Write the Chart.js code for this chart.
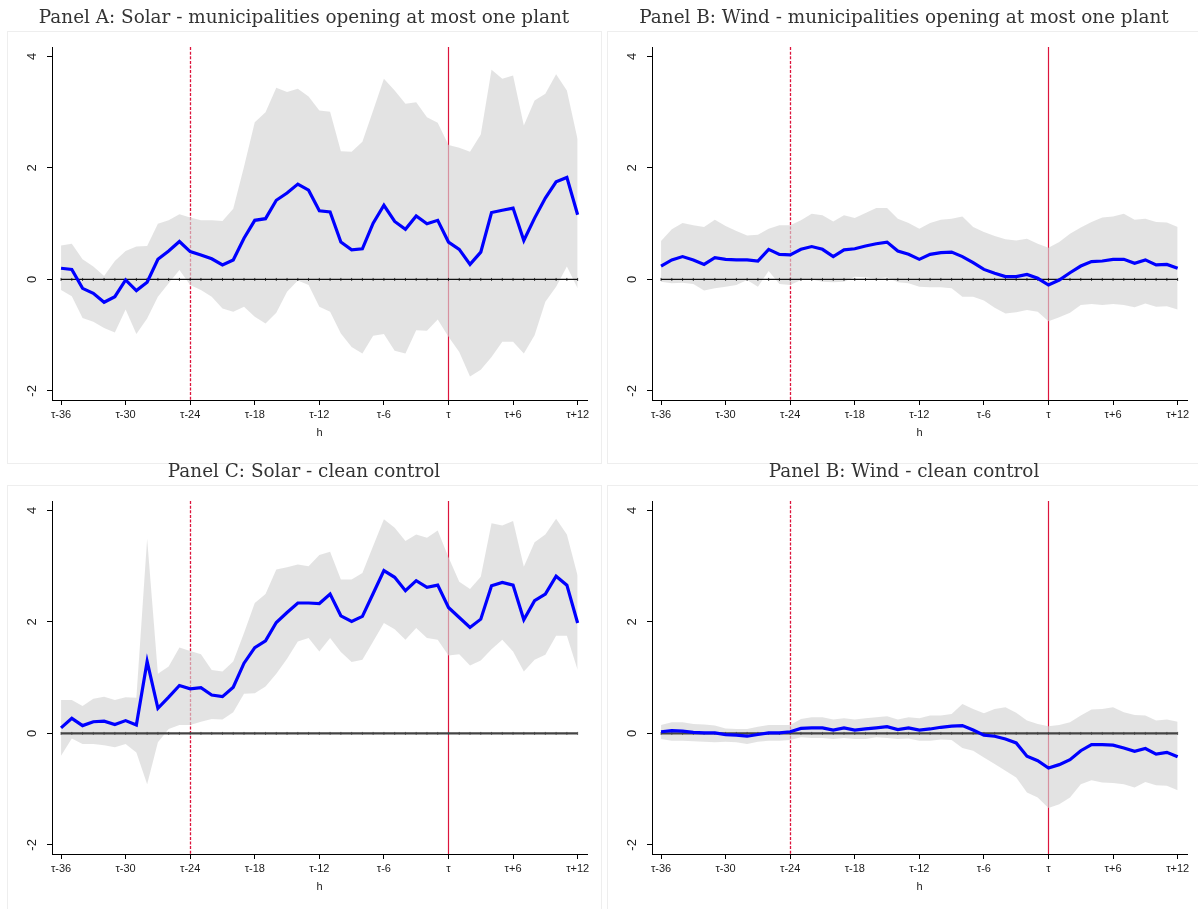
<!DOCTYPE html>
<html>
<head>
<meta charset="utf-8">
<script src="https://cdn.jsdelivr.net/npm/chart.js@4.4.1/dist/chart.umd.min.js"></script>
<style>
  html, body { margin: 0; padding: 0; background: #fff; overflow: hidden; }
  #wrap { position: relative; width: 1198px; height: 909px; overflow: hidden; }
  .panel { position: absolute; width: 608px; height: 464px; }
</style>
</head>
<body>
<div id="wrap">
  <div class="panel" style="left:0px;top:0px"><canvas id="panelA" width="608" height="464"></canvas></div>
  <div class="panel" style="left:600px;top:0px"><canvas id="panelB" width="608" height="464"></canvas></div>
  <div class="panel" style="left:0px;top:454px"><canvas id="panelC" width="608" height="464"></canvas></div>
  <div class="panel" style="left:600px;top:454px"><canvas id="panelD" width="608" height="464"></canvas></div>
</div>
<script>
const hValues = [-36, -35, -34, -33, -32, -31, -30, -29, -28, -27, -26, -25, -24,
	-23, -22, -21, -20, -19, -18, -17, -16, -15, -14, -13, -12,
	-11, -10, -9, -8, -7, -6, -5, -4, -3, -2, -1, 0,
	1, 2, 3, 4, 5, 6, 7, 8, 9, 10, 11, 12];

const xTickValues = [-36, -30, -24, -18, -12, -6, 0, 6, 12];
const xTickLabels = ['τ-36', 'τ-30', 'τ-24', 'τ-18', 'τ-12', 'τ-6', 'τ', 'τ+6', 'τ+12'];
const yTickValues = [-2, 0, 2, 4];
const eventDates = [-24, 0];

// Panel A: solar, municipalities opening at most one plant
const solarOneCoef = [0.20, 0.18, -0.16, -0.25, -0.41, -0.31, -0.01, -0.20, -0.05, 0.36, 0.51, 0.68, 0.50,
	0.44, 0.37, 0.26, 0.35, 0.74, 1.06, 1.09, 1.42, 1.55, 1.71, 1.60, 1.23,
	1.21, 0.67, 0.53, 0.55, 1.01, 1.33, 1.04, 0.90, 1.14, 1.00, 1.06, 0.67,
	0.54, 0.27, 0.49, 1.20, 1.24, 1.28, 0.70, 1.10, 1.46, 1.75, 1.83, 1.16];
const solarOneUpper = [0.61, 0.64, 0.36, 0.23, 0.06, 0.33, 0.51, 0.59, 0.60, 1.00, 1.06, 1.17, 1.11,
	1.06, 1.06, 1.05, 1.27, 2.02, 2.82, 3.00, 3.44, 3.36, 3.42, 3.28, 3.03,
	3.01, 2.30, 2.29, 2.47, 3.03, 3.60, 3.39, 3.15, 3.18, 2.91, 2.81, 2.41,
	2.36, 2.29, 2.60, 3.76, 3.60, 3.66, 2.76, 3.21, 3.33, 3.68, 3.39, 2.51];
const solarOneLower = [-0.19, -0.30, -0.69, -0.76, -0.87, -0.95, -0.54, -0.98, -0.70, -0.31, -0.07, 0.17, -0.10,
	-0.19, -0.31, -0.52, -0.58, -0.49, -0.67, -0.79, -0.60, -0.22, -0.02, -0.10, -0.49,
	-0.58, -0.97, -1.21, -1.33, -1.01, -0.98, -1.28, -1.33, -0.91, -0.92, -0.72, -1.03,
	-1.30, -1.74, -1.62, -1.39, -1.12, -1.12, -1.33, -1.00, -0.40, -0.13, 0.23, -0.16];

// Panel B: wind, municipalities opening at most one plant
const windOneCoef = [0.24, 0.35, 0.41, 0.35, 0.27, 0.39, 0.36, 0.35, 0.35, 0.33, 0.54, 0.45, 0.44,
	0.54, 0.59, 0.54, 0.41, 0.53, 0.55, 0.60, 0.64, 0.67, 0.51, 0.45, 0.36,
	0.45, 0.48, 0.49, 0.41, 0.30, 0.18, 0.11, 0.05, 0.05, 0.09, 0.02, -0.10,
	-0.01, 0.12, 0.24, 0.32, 0.33, 0.36, 0.36, 0.29, 0.35, 0.26, 0.27, 0.20];
const windOneUpper = [0.69, 0.90, 1.01, 0.97, 0.94, 1.07, 0.96, 0.87, 0.79, 0.80, 0.91, 0.97, 0.97,
	1.06, 1.18, 1.15, 1.04, 1.15, 1.10, 1.19, 1.28, 1.28, 1.09, 1.01, 0.91,
	1.01, 1.07, 1.09, 1.13, 0.94, 0.85, 0.78, 0.72, 0.70, 0.73, 0.64, 0.57,
	0.67, 0.82, 0.93, 1.03, 1.11, 1.13, 1.18, 1.07, 1.09, 1.03, 1.02, 0.94];
const windOneLower = [-0.04, -0.07, -0.06, -0.08, -0.20, -0.16, -0.13, -0.10, -0.01, -0.13, 0.15, -0.08, -0.10,
	-0.01, 0.00, -0.04, -0.05, -0.04, 0.05, 0.04, 0.01, 0.04, -0.05, -0.07, -0.13,
	-0.14, -0.14, -0.16, -0.31, -0.31, -0.38, -0.51, -0.61, -0.59, -0.55, -0.58, -0.75,
	-0.68, -0.60, -0.46, -0.44, -0.46, -0.44, -0.46, -0.50, -0.43, -0.49, -0.48, -0.54];

// Panel C: solar, clean control
const solarCleanCoef = [0.10, 0.27, 0.14, 0.21, 0.22, 0.16, 0.23, 0.15, 1.29, 0.45, 0.65, 0.86, 0.80,
	0.82, 0.69, 0.66, 0.83, 1.26, 1.54, 1.66, 1.99, 2.17, 2.34, 2.34, 2.33,
	2.50, 2.11, 2.01, 2.10, 2.51, 2.92, 2.80, 2.56, 2.74, 2.62, 2.66, 2.26,
	2.08, 1.90, 2.05, 2.65, 2.71, 2.66, 2.04, 2.38, 2.50, 2.82, 2.66, 1.98];
const solarCleanUpper = [0.60, 0.60, 0.49, 0.62, 0.66, 0.60, 0.65, 0.64, 3.49, 1.07, 1.20, 1.54, 1.48,
	1.42, 1.14, 1.11, 1.29, 1.80, 2.34, 2.50, 2.94, 2.98, 3.03, 3.00, 3.20,
	3.26, 2.76, 2.76, 2.88, 3.36, 3.84, 3.69, 3.45, 3.57, 3.51, 3.64, 3.16,
	2.72, 2.59, 2.81, 3.77, 3.73, 3.81, 2.99, 3.43, 3.57, 3.85, 3.57, 2.83];
const solarCleanLower = [-0.40, -0.09, -0.19, -0.19, -0.21, -0.25, -0.19, -0.34, -0.91, -0.16, 0.08, 0.15, 0.15,
	0.21, 0.26, 0.25, 0.38, 0.71, 0.72, 0.84, 1.07, 1.34, 1.65, 1.71, 1.47,
	1.71, 1.46, 1.28, 1.32, 1.65, 1.98, 1.87, 1.68, 1.89, 1.71, 1.68, 1.40,
	1.42, 1.22, 1.31, 1.51, 1.68, 1.47, 1.11, 1.32, 1.41, 1.75, 1.75, 1.14];

// Panel D: wind, clean control
const windCleanCoef = [0.03, 0.05, 0.04, 0.02, 0.01, 0.01, -0.02, -0.03, -0.05, -0.02, 0.01, 0.01, 0.03,
	0.09, 0.10, 0.10, 0.06, 0.10, 0.06, 0.08, 0.10, 0.12, 0.07, 0.10, 0.06,
	0.08, 0.11, 0.13, 0.14, 0.06, -0.03, -0.05, -0.10, -0.17, -0.41, -0.49, -0.62,
	-0.56, -0.47, -0.31, -0.20, -0.20, -0.21, -0.26, -0.32, -0.27, -0.37, -0.34, -0.42];
const windCleanUpper = [0.15, 0.20, 0.20, 0.17, 0.16, 0.14, 0.09, 0.08, 0.08, 0.12, 0.15, 0.15, 0.15,
	0.26, 0.29, 0.29, 0.25, 0.27, 0.25, 0.27, 0.29, 0.31, 0.25, 0.29, 0.27,
	0.32, 0.32, 0.35, 0.53, 0.44, 0.36, 0.44, 0.47, 0.37, 0.23, 0.17, 0.13,
	0.15, 0.20, 0.32, 0.43, 0.44, 0.47, 0.38, 0.33, 0.32, 0.23, 0.25, 0.21];
const windCleanLower = [-0.10, -0.13, -0.13, -0.14, -0.15, -0.16, -0.15, -0.16, -0.19, -0.15, -0.13, -0.13, -0.12,
	-0.07, -0.08, -0.08, -0.10, -0.08, -0.10, -0.10, -0.07, -0.08, -0.10, -0.09, -0.13,
	-0.13, -0.11, -0.12, -0.26, -0.31, -0.43, -0.55, -0.67, -0.79, -1.06, -1.15, -1.34,
	-1.27, -1.15, -0.91, -0.84, -0.88, -0.89, -0.91, -0.97, -0.87, -0.93, -0.94, -1.02];


// light frame around each graph region, under the title
const panelFrame = {
	id: 'panelFrame',
	beforeDraw(chart) {
		const ctx = chart.ctx;
		ctx.save();
		ctx.strokeStyle = '#eeeeee';
		ctx.lineWidth = 1;
		ctx.strokeRect(7.5, 31.5, 594, 432);
		ctx.restore();
	}
};

// red lines at tau-24 (dashed) and tau (solid), under the confidence band
const eventLines = {
	id: 'eventLines',
	beforeDatasetsDraw(chart) {
		const { ctx, chartArea, scales } = chart;
		eventDates.forEach((h, i) => {
			const px = Math.round(scales.x.getPixelForValue(h)) + 0.5;
			ctx.save();
			ctx.strokeStyle = '#dc143c';
			ctx.lineWidth = i === 0 ? 1.3 : 1.2;
			if (i === 0) ctx.setLineDash([3, 1.6]);
			ctx.beginPath();
			ctx.moveTo(px, chartArea.top);
			ctx.lineTo(px, chartArea.bottom);
			ctx.stroke();
			ctx.restore();
		});
	}
};


function makePanel(id, title, coef, upper, lower, zeroColor, zeroWidth) {
	const points = arr => hValues.map((h, i) => ({ x: h, y: arr[i] }));
	const tickFont = { family: 'Liberation Sans', size: 11 };

	return new Chart(document.getElementById(id), {
		type: 'line',
		data: {
			datasets: [{
				data: points(coef),
				borderColor: '#0000ff',
				borderWidth: 3.2,
				pointRadius: 0,
				fill: false
			}, {
				data: hValues.map(h => ({ x: h, y: 0 })),
				borderColor: zeroColor,
				borderWidth: zeroWidth,
				pointStyle: 'line',
				pointRotation: 90,
				pointRadius: 1.5,
				pointBorderWidth: 0.8,
				pointBorderColor: zeroColor,
				fill: false
			}, {
				data: points(upper),
				borderColor: 'rgba(0,0,0,0)',
				borderWidth: 0,
				pointRadius: 0,
				backgroundColor: 'rgba(212,212,212,0.65)',
				fill: '+1'
			}, {
				data: points(lower),
				borderColor: 'rgba(0,0,0,0)',
				borderWidth: 0,
				pointRadius: 0,
				fill: false
			}]
		},
		options: {
			responsive: false,
			animation: false,
			events: [],
			layout: { padding: { left: 21, right: 21, top: 0, bottom: 19 } },
			plugins: {
				legend: { display: false },
				tooltip: { enabled: false },
				title: {
					display: true,
					text: title,
					color: '#333',
					font: { family: 'DejaVu Serif', size: 18.4, weight: 'normal', lineHeight: 1.2 },
					padding: { top: 7, bottom: 18 }
				}
			},
			scales: {
				x: {
					type: 'linear',
					min: -36.84,
					max: 12.87,
					afterBuildTicks: s => { s.ticks = xTickValues.map(v => ({ value: v })); },
					afterFit: s => { s.height = 45; },
					grid: { drawOnChartArea: false, tickLength: 5, color: '#000' },
					border: { color: '#000', width: 1 },
					ticks: {
						autoSkip: false,
						maxRotation: 0,
						padding: 3,
						color: '#1a1a1a',
						font: tickFont,
						callback: (v, i) => xTickLabels[i]
					},
					title: {
						display: true,
						text: 'h',
						color: '#1a1a1a',
						font: tickFont,
						padding: { top: 0, bottom: 5 }
					}
				},
				y: {
					min: -2.163,
					max: 4.168,
					afterBuildTicks: s => { s.ticks = yTickValues.map(v => ({ value: v })); },
					afterFit: s => { s.width = 31; },
					grid: { drawOnChartArea: false, tickLength: 5, color: '#000' },
					border: { color: '#000', width: 1 },
					ticks: {
						minRotation: 90,
						maxRotation: 90,
						crossAlign: 'center',
						padding: 9,
						color: '#1a1a1a',
						font: { family: 'Liberation Sans', size: 13 }
					}
				}
			}
		},
		plugins: [panelFrame, eventLines]
	});
}


makePanel('panelA', 'Panel A: Solar - municipalities opening at most one plant',
	solarOneCoef, solarOneUpper, solarOneLower, '#111', 1.4);
makePanel('panelB', 'Panel B: Wind - municipalities opening at most one plant',
	windOneCoef, windOneUpper, windOneLower, '#111', 1.4);
makePanel('panelC', 'Panel C: Solar - clean control',
	solarCleanCoef, solarCleanUpper, solarCleanLower, '#444', 2.2);
makePanel('panelD', 'Panel B: Wind - clean control',
	windCleanCoef, windCleanUpper, windCleanLower, '#444', 2.2);
</script>
</body>
</html>
